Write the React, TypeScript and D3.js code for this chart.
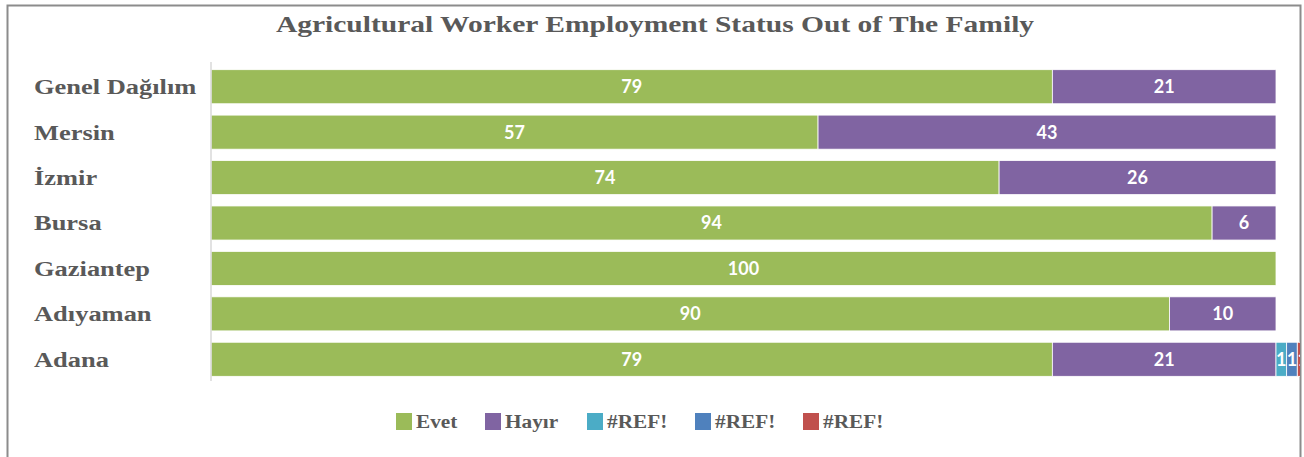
import React from "react";
import * as d3 from "d3";

const categories = ["Genel Dağılım", "Mersin", "İzmir", "Bursa", "Gaziantep", "Adıyaman", "Adana"];
const seriesNames = ["Evet", "Hayır", "#REF!", "#REF!", "#REF!"];
const evet = [79, 57, 74, 94, 100, 90, 79];
const hayir = [21, 43, 26, 6, 0, 10, 21];
const ref1 = [0, 0, 0, 0, 0, 0, 1];
const ref2 = [0, 0, 0, 0, 0, 0, 1];
const ref3 = [0, 0, 0, 0, 0, 0, 1];
const colors = ["#9BBB59", "#8064A2", "#4BACC6", "#4F81BD", "#C0504D"];
const title = "Agricultural Worker Employment Status Out of The Family";

const W = 1304;
const H = 457;

export default function App() {
  const series = [evet, hayir, ref1, ref2, ref3];
  const x = d3.scaleLinear().domain([0, 100]).range([211, 1276]);
  const y = d3.scaleBand<string>().domain(categories).range([64, 382]).paddingInner(0.25).paddingOuter(0.125);
  const rows = categories.map((c, i) => {
    let acc = 0;
    return series.map((s, k) => {
      const v = s[i];
      const seg = { k, v, x0: acc, x1: acc + v };
      acc += v;
      return seg;
    });
  });
  const legendX = [396, 485, 587, 695, 803];
  return (
    <svg width={W} height={H} style={{ position: "absolute", left: 0, top: 0, display: "block" }}>
      <defs>
        <clipPath id="frameClip">
          <rect x={8} y={6} width={1292} height={H} />
        </clipPath>
      </defs>
      <rect x={0} y={0} width={W} height={H} fill="#fff" />
      <path d={`M7.5,${H} V5.5 H1300.5 V${H}`} fill="none" stroke="#8c8c8c" strokeWidth={2} />
      <text
        transform="translate(655,32) scale(1.23,1)"
        textAnchor="middle"
        fontFamily="Liberation Serif"
        fontWeight="bold"
        fontSize={24}
        fill="#595959"
      >
        {title}
      </text>
      <g clipPath="url(#frameClip)">
        {rows.map((segs, i) =>
          segs.filter((s) => s.v > 0).map((s) => (
            <g key={`${i}-${s.k}`}>
              <rect
                x={x(s.x0)}
                y={y(categories[i])}
                width={x(s.x1) - x(s.x0)}
                height={y.bandwidth()}
                fill={colors[s.k]}
                stroke="#fff"
                strokeWidth={0.8}
              />
              <text
                x={(x(s.x0) + x(s.x1)) / 2}
                y={(y(categories[i]) as number) + y.bandwidth() / 2}
                dy="0.36em"
                textAnchor="middle"
                fontFamily="Lato"
                fontWeight="bold"
                fontSize={18}
                fill="#fff"
              >
                {s.v}
              </text>
            </g>
          ))
        )}
      </g>
      <line x1={211} x2={211} y1={62} y2={381} stroke="#d9d9d9" strokeWidth={1.5} />
      {categories.map((c) => (
        <text
          key={c}
          transform={`translate(34,${(y(c) as number) + y.bandwidth() / 2}) scale(1.26,1)`}
          dy="0.35em"
          fontFamily="Liberation Serif"
          fontWeight="bold"
          fontSize={21}
          fill="#595959"
        >
          {c}
        </text>
      ))}
      {seriesNames.map((n, k) => (
        <g key={k}>
          <rect x={legendX[k]} y={413} width={16} height={17} fill={colors[k]} />
          <text
            transform={`translate(${legendX[k] + 20},421.5) scale(1.12,1)`}
            dy="0.35em"
            fontFamily="Liberation Serif"
            fontWeight="bold"
            fontSize={19}
            fill="#595959"
          >
            {n}
          </text>
        </g>
      ))}
    </svg>
  );
}
